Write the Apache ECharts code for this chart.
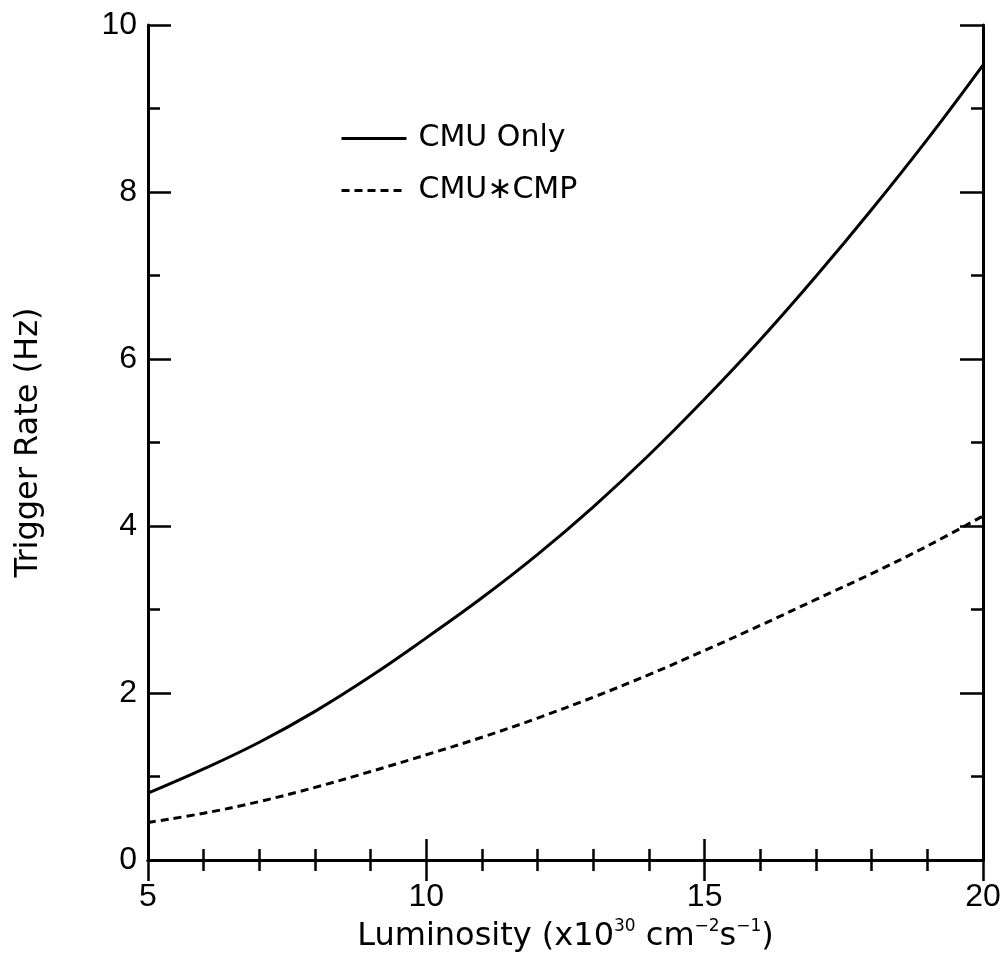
<!DOCTYPE html>
<html>
<head>
<meta charset="utf-8">
<script src="https://cdn.jsdelivr.net/npm/echarts@6/dist/echarts.min.js"></script>
<style>html,body{margin:0;padding:0;background:#fff;}#c{width:1005px;height:958px;}</style>
</head>
<body>
<div id="c"></div>
<script>
// Luminosity (x10^30 cm^-2 s^-1)
var luminosity = [5, 6, 7, 8, 9, 10, 11, 12, 13, 14, 15, 16, 17, 18, 19, 20];
// Trigger rate (Hz)
var cmuOnly = [0.80, 1.09, 1.41, 1.78, 2.20, 2.66, 3.14, 3.66, 4.23, 4.85, 5.52, 6.23, 6.99, 7.79, 8.63, 9.52];
var cmuCmp  = [0.45, 0.56, 0.70, 0.87, 1.06, 1.26, 1.47, 1.70, 1.95, 2.22, 2.51, 2.81, 3.12, 3.43, 3.76, 4.12];
var seriesNames = ['CMU Only', 'CMU\u2217CMP'];

function pairs(xs, ys) { return xs.map(function (x, i) { return [x, ys[i]]; }); }

var chart = echarts.init(document.getElementById('c'), null, { renderer: 'canvas' });
var axisLine = { show: true, lineStyle: { color: '#000', width: 3 } };
var labelFont = { fontFamily: 'Liberation Sans', fontSize: 32, color: '#000' };
var nameFont = 'DejaVu Sans';
var tickStyle = { color: '#000', width: 2.5 };

chart.setOption({
  animation: false,
  backgroundColor: '#fff',
  grid: { left: 148, right: 22, top: 25, bottom: 98, containLabel: false },
  legend: {
    orient: 'vertical',
    left: 340,
    top: 120,
    padding: 0,
    itemWidth: 65,
    itemHeight: 14,
    itemGap: 15,
    data: seriesNames,
    itemStyle: { opacity: 0, borderWidth: 0 },
    lineStyle: { width: 3 },
    textStyle: { fontFamily: nameFont, fontSize: 30, color: '#000', lineHeight: 37, padding: [0, 0, 0, 7] }
  },
  xAxis: [{
    type: 'value', min: 5, max: 20, interval: 5, position: 'bottom',
    axisLine: axisLine,
    axisTick: { show: true, inside: true, length: 21, lineStyle: tickStyle },
    minorTick: { show: true, splitNumber: 5, length: 11, lineStyle: tickStyle },
    splitLine: { show: false },
    axisLabel: Object.assign({ margin: 21 }, labelFont),
    name: '{n|Luminosity (x10}{s|30}{n| cm}{s|\u22122}{n|s}{s|\u22121}{n|)}',
    nameLocation: 'middle',
    nameGap: 55,
    nameTextStyle: {
      rich: {
        n: { fontFamily: nameFont, fontSize: 32, color: '#000' },
        s: { fontFamily: nameFont, fontSize: 17, color: '#000', padding: [0, 0, 20, 0] }
      }
    }
  }, {
    type: 'value', min: 5, max: 20, interval: 5, position: 'top',
    axisLine: axisLine,
    axisTick: { show: true, inside: true, length: 21, lineStyle: tickStyle },
    minorTick: { show: true, splitNumber: 5, length: 11, lineStyle: tickStyle },
    splitLine: { show: false },
    axisLabel: { show: false }
  }],
  yAxis: [{
    type: 'value', min: 0, max: 10, interval: 2, position: 'left',
    axisLine: axisLine,
    axisTick: { show: true, inside: true, length: 23, lineStyle: tickStyle },
    minorTick: { show: true, splitNumber: 2, length: 12, lineStyle: tickStyle },
    splitLine: { show: false },
    axisLabel: Object.assign({ margin: 11 }, labelFont),
    name: 'Trigger Rate (Hz)',
    nameLocation: 'middle',
    nameGap: 103,
    nameTextStyle: { fontFamily: nameFont, fontSize: 32, color: '#000' }
  }, {
    type: 'value', min: 0, max: 10, interval: 2, position: 'right',
    axisLine: axisLine,
    axisTick: { show: true, inside: true, length: 23, lineStyle: tickStyle },
    minorTick: { show: true, splitNumber: 2, length: 12, lineStyle: tickStyle },
    splitLine: { show: false },
    axisLabel: { show: false }
  }],
  series: [{
    name: seriesNames[0], type: 'line', xAxisIndex: 0, yAxisIndex: 0,
    data: pairs(luminosity, cmuOnly), smooth: 0.4, symbol: 'none',
    lineStyle: { color: '#000', width: 3, type: 'solid' },
    itemStyle: { color: '#000' }
  }, {
    name: seriesNames[1], type: 'line', xAxisIndex: 0, yAxisIndex: 0,
    data: pairs(luminosity, cmuCmp), smooth: 0.4, symbol: 'none',
    lineStyle: { color: '#000', width: 3, type: [8, 5] },
    itemStyle: { color: '#000' }
  }]
});
</script>
</body>
</html>
